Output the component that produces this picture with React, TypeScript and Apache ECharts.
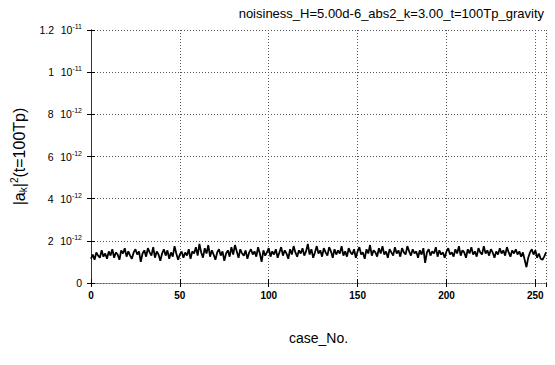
import React, { useEffect, useRef } from "react";
import * as echarts from "echarts";

// values in units of 1e-12
const caseValues: number[] = [
  1.15, 1.35, 1.10, 1.45, 1.30, 1.20, 1.55, 1.25, 1.40, 1.15,
  1.50, 1.30, 1.60, 1.20, 1.45, 1.35, 1.10, 1.55, 1.40, 1.65,
  1.25, 1.50, 1.30, 1.15, 1.45, 1.60, 1.35, 1.50, 1.00, 1.40,
  1.55, 1.25, 1.65, 1.45, 1.30, 1.70, 1.20, 1.50, 1.35, 1.05,
  1.40, 1.60, 1.30, 1.55, 1.15, 1.45, 1.25, 1.75, 1.40, 1.10,
  1.35, 1.50, 1.20, 1.45, 1.30, 1.60, 1.15, 1.50, 1.40, 1.70,
  1.30, 1.85, 1.45, 1.20, 1.65, 1.40, 1.80, 1.25, 1.55, 1.35,
  1.10, 1.45, 1.60, 1.30, 1.50, 1.05, 1.40, 1.55, 1.25, 1.70,
  1.35, 1.80, 1.50, 1.20, 1.60, 1.40, 1.30, 1.55, 1.15, 1.45,
  1.60, 1.35, 1.50, 1.25, 1.70, 1.40, 1.00, 1.55, 1.30, 1.45,
  1.65, 1.25, 1.50, 1.35, 1.60, 1.20, 1.45, 1.70, 1.30, 1.55,
  1.40, 1.15, 1.60, 1.35, 1.75, 1.45, 1.25, 1.55, 1.40, 1.65,
  1.30, 1.50, 1.85, 1.35, 1.60, 1.20, 1.45, 1.75, 1.40, 1.55,
  1.25, 1.65, 1.45, 1.30, 1.70, 1.50, 1.20, 1.60, 1.35, 1.55,
  1.40, 1.75, 1.30, 1.50, 1.25, 1.65, 1.45, 1.35, 1.60, 1.20,
  1.50, 1.70, 1.35, 1.45, 1.15, 1.60, 1.40, 1.80, 1.30, 1.55,
  1.45, 1.25, 1.65, 1.40, 1.75, 1.35, 1.50, 1.20, 1.60, 1.45,
  1.30, 1.70, 1.40, 1.55, 1.25, 1.65, 1.45, 1.35, 1.75, 1.50,
  1.30, 1.60, 1.40, 1.50, 1.20, 1.55, 1.35, 1.65, 0.95, 1.45,
  1.60, 1.30, 1.50, 1.40, 1.70, 1.25, 1.55, 1.35, 1.45, 1.20,
  1.50, 1.65, 1.35, 1.45, 1.25, 1.60, 1.40, 1.75, 1.30, 1.55,
  1.45, 1.20, 1.60, 1.40, 1.70, 1.35, 1.50, 1.25, 1.65, 1.45,
  1.35, 1.75, 1.40, 1.55, 1.30, 1.60, 1.45, 1.20, 1.50, 1.35,
  1.65, 1.40, 1.55, 1.30, 1.70, 1.45, 1.25, 1.55, 1.40, 1.60,
  1.35, 1.50, 1.25, 1.45, 1.10, 0.75, 1.20, 1.45, 1.60, 1.35,
  1.55, 1.20, 1.40, 1.15, 1.10, 1.25, 1.45,
];
const caseNumbers: number[] = caseValues.map((_, i) => i);

const yTickMantissa: string[] = ["0", "2", "4", "6", "8", "1", "1.2"];
const yTickExponent: string[] = ["", "-12", "-12", "-12", "-12", "-11", "-11"];

const titleText = "noisiness_H=5.00d-6_abs2_k=3.00_t=100Tp_gravity";
const xName = "case_No.";

const FONT = "Liberation Sans";

export default function App() {
  const ref = useRef<HTMLDivElement>(null);
  useEffect(() => {
    if (!ref.current) return;
    const chart = echarts.init(ref.current, undefined, { renderer: "svg" });
    const gridLine = { show: true, lineStyle: { color: "#555", type: [1, 2] as any, width: 1 } };
    chart.setOption({
      animation: false,
      backgroundColor: "#fff",
      title: {
        text: titleText,
        right: 6,
        top: 2,
        textStyle: { fontFamily: FONT, fontSize: 13, fontWeight: "normal", color: "#000" },
      },
      grid: { left: 91, right: 9, top: 30, bottom: 82 },
      xAxis: [
        {
          type: "value",
          min: 0,
          max: 256,
          interval: 50,
          name: xName,
          nameLocation: "middle",
          nameGap: 48,
          nameTextStyle: { fontFamily: FONT, fontSize: 14, color: "#000" },
          axisLine: { show: true, lineStyle: { color: "#555", type: [1, 2] as any } },
          axisTick: { show: true, inside: true, length: 4, lineStyle: { color: "#000" } },
          axisLabel: { fontFamily: FONT, fontSize: 10, color: "#000", fontWeight: "bold", margin: 7,
            showMaxLabel: false },
          splitLine: gridLine,
        },
        {
          type: "value",
          position: "top",
          min: 0,
          max: 256,
          interval: 50,
          axisLine: { show: true, lineStyle: { color: "#555", type: [1, 2] as any } },
          axisTick: { show: true, inside: true, length: 4, lineStyle: { color: "#000" } },
          axisLabel: { show: false },
          splitLine: { show: false },
        },
      ],
      yAxis: [
        {
          type: "value",
          min: 0,
          max: 12,
          interval: 2,
          name: "{t|\u007Ca}{sub|k}{t|\u007C}{sup|2}{t|(t=100Tp)}",
          nameLocation: "middle",
          nameGap: 60,
          nameRotate: 90,
          nameTextStyle: {
            fontFamily: FONT,
            color: "#000",
            rich: {
              t: { fontFamily: FONT, fontSize: 16, color: "#000" },
              sub: { fontFamily: FONT, fontSize: 10, color: "#000", padding: [9, 0, 0, 0] },
              sup: { fontFamily: FONT, fontSize: 10, color: "#000", padding: [0, 0, 9, 0] },
            },
          },
          axisLine: { show: true, lineStyle: { color: "#000", width: 1 } },
          axisTick: { show: true, inside: true, length: 4, lineStyle: { color: "#000" } },
          axisLabel: {
            margin: 9,
            formatter: (v: number, i: number) => {
              const idx = Math.round(v / 2);
              const m = yTickMantissa[idx] ?? String(v);
              const e = yTickExponent[idx] ?? "";
              if (!e) return `{m|${m}}`;
              return `{m|${m}}  {m|10}{s|${e}}`;
            },
            rich: {
              m: { fontFamily: FONT, fontSize: 10.5, color: "#000" },
              s: { fontFamily: FONT, fontSize: 7, color: "#000", padding: [0, 0, 7, 0] },
            },
          },
          splitLine: gridLine,
        },
        {
          type: "value",
          position: "right",
          min: 0,
          max: 12,
          interval: 2,
          axisLine: { show: true, lineStyle: { color: "#333", width: 1 } },
          axisTick: { show: true, inside: true, length: 4, lineStyle: { color: "#000" } },
          axisLabel: { show: false },
          splitLine: { show: false },
        },
      ],
      series: [
        {
          type: "line",
          xAxisIndex: 0,
          yAxisIndex: 0,
          data: caseNumbers.map((x, i) => [x, caseValues[i]]),
          showSymbol: false,
          symbol: "none",
          lineStyle: { color: "#000", width: 1.8 },
        },
      ],
    });
    return () => chart.dispose();
  }, []);
  return <div ref={ref} style={{ width: 555, height: 365, margin: -8 }} />;
}
